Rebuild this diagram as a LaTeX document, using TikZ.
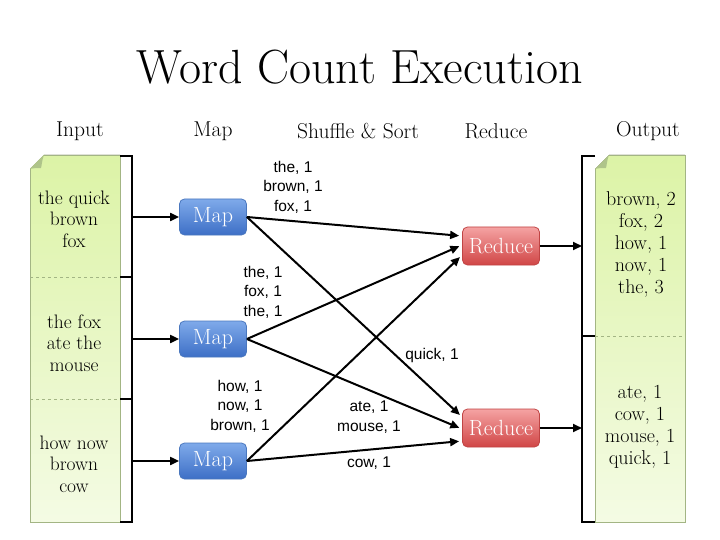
\documentclass[tikz,border=0pt]{standalone}
\usepackage{fontspec}
\newfontfamily\lblfont{Liberation Sans}
\usetikzlibrary{arrows.meta}
\definecolor{noteTop}{HTML}{DCF3A6}
\definecolor{noteBot}{HTML}{F4FBE4}
\definecolor{noteBorder}{HTML}{A3B584}
\definecolor{noteFold}{HTML}{AFC48A}
\definecolor{mapTop}{HTML}{7FAAEA}
\definecolor{mapBot}{HTML}{3D6FC6}
\definecolor{mapBorder}{HTML}{4A77BE}
\definecolor{redTop}{HTML}{F5A3A3}
\definecolor{redBot}{HTML}{D04646}
\definecolor{redBorder}{HTML}{C04444}
\tikzset{
  mapbox/.style={draw=mapBorder, line width=0.8pt, rounded corners=5pt, top color=mapTop, bottom color=mapBot,
    minimum width=67pt, minimum height=36pt, text=white, font=\fontsize{22}{24}\selectfont, inner sep=0pt},
  redbox/.style={draw=redBorder, line width=0.8pt, rounded corners=5pt, top color=redTop, bottom color=redBot,
    minimum width=77pt, minimum height=38pt, text=white, font=\fontsize{22}{24}\selectfont, inner sep=0pt},
  arr/.style={line width=2pt, -{Triangle[length=9pt,width=8pt]}},
  brk/.style={line width=2.4pt, line cap=butt, line join=miter},
  kv/.style={font=\lblfont\fontsize{15.5}{19.5}\selectfont, align=center, inner sep=0pt},
  doc/.style={font=\fontsize{19.5}{21.5}\selectfont, align=center, inner sep=0pt},
  hdr/.style={font=\fontsize{21.5}{24}\selectfont, inner sep=0pt},
  divider/.style={draw=noteBorder, dashed, line width=0.7pt},
}
\begin{document}
\begin{tikzpicture}[x=1pt,y=-1pt]
\useasboundingbox (0,0) rectangle (720,540);
% title and headers
\node[font=\fontsize{48}{52}\selectfont, inner sep=0pt] (title) at (360,67) {Word Count Execution};
\node[hdr] (hIn) at (80,131) {Input};
\node[hdr] (hMap) at (213,131) {Map};
\node[hdr] (hSS) at (358,131) {Shuffle \& Sort};
\node[hdr] (hRed) at (496,131) {Reduce};
\node[hdr] (hOut) at (648,131) {Output};
% input note
\fill[top color=noteTop, bottom color=noteBot] (44,155) -- (120,155) -- (120,522) -- (30,522) -- (30,169) -- cycle;
\draw[noteBorder, line width=0.8pt] (44,155) -- (120,155) -- (120,522) -- (30,522) -- (30,169);
\fill[noteFold] (30,169) -- (44,155) .. controls (42,160) and (42,164) .. (41,168) .. controls (37,168) and (34,168) .. (30,169) -- cycle;
\draw[divider] (30,277) -- (120,277);
\draw[divider] (30,399) -- (120,399);
% output note
\fill[top color=noteTop, bottom color=noteBot] (609,155) -- (685,155) -- (685,522) -- (595,522) -- (595,169) -- cycle;
\draw[noteBorder, line width=0.8pt] (609,155) -- (685,155) -- (685,522) -- (595,522) -- (595,169);
\fill[noteFold] (595,169) -- (609,155) .. controls (607,160) and (607,164) .. (606,168) .. controls (602,168) and (599,168) .. (595,169) -- cycle;
\draw[divider] (595,336) -- (685,336);
% input texts
\node[doc] (in1) at (74,219) {the quick\\brown\\fox};
\node[doc] (in2) at (74,343) {the fox\\ate the\\mouse};
\node[doc] (in3) at (74,464) {how now\\brown\\cow};
% output texts
\node[doc, font=\fontsize{20}{22}\selectfont] (out1) at (641,244) {brown, 2\\fox, 2\\how, 1\\now, 1\\the, 3};
\node[doc, font=\fontsize{20}{22}\selectfont] (out2) at (640,427) {ate, 1\\cow, 1\\mouse, 1\\quick, 1};
% brackets
\draw[brk] (120,156) -- (132,156) -- (132,522) -- (120,522);
\draw[brk] (120,277) -- (132,277);
\draw[brk] (120,399) -- (132,399);
\draw[brk] (595,156) -- (582,156) -- (582,522) -- (595,522);
\draw[brk] (595,336) -- (582,336);
\coordinate (ia1) at (132,217);
\coordinate (ia2) at (132,339);
\coordinate (ia3) at (132,461);
\coordinate (oa1) at (582,246);
\coordinate (oa2) at (582,428);
% map and reduce
\node[mapbox] (m1) at (213,217) {Map};
\node[mapbox] (m2) at (213,339) {Map};
\node[mapbox] (m3) at (213,461) {Map};
\node[redbox] (r1) at (501,246) {Reduce};
\node[redbox] (r2) at (501,428) {Reduce};
% connectors
\draw[arr] (ia1) -- (m1.west);
\draw[arr] (ia2) -- (m2.west);
\draw[arr] (ia3) -- (m3.west);
\draw[arr, shorten >=3pt] (m1.east) -- ([yshift=10pt]r1.west);
\draw[arr, shorten >=3pt] (m2.east) -- ([yshift=1pt]r1.west);
\draw[arr, shorten >=3pt] (m3.east) -- ([yshift=-9pt]r1.west);
\draw[arr, shorten >=3pt] (m1.east) -- ([yshift=11pt]r2.west);
\draw[arr, shorten >=3pt] (m2.east) -- ([yshift=-1pt]r2.west);
\draw[arr, shorten >=3pt] (m3.east) -- ([yshift=-13pt]r2.west);
\draw[arr] (r1.east) -- (oa1);
\draw[arr] (r2.east) -- (oa2);
% labels
\node[kv] (l1) at (293,187) {the, 1\\brown, 1\\fox, 1};
\node[kv] (l2) at (263,292) {the, 1\\fox, 1\\the, 1};
\node[kv] (l3) at (240,406) {how, 1\\now, 1\\brown, 1};
\node[kv] (l4) at (369,417) {ate, 1\\mouse, 1};
\node[kv] (l5) at (369,463) {cow, 1};
\node[kv] (l6) at (432,355) {quick, 1};
\end{tikzpicture}
\end{document}
